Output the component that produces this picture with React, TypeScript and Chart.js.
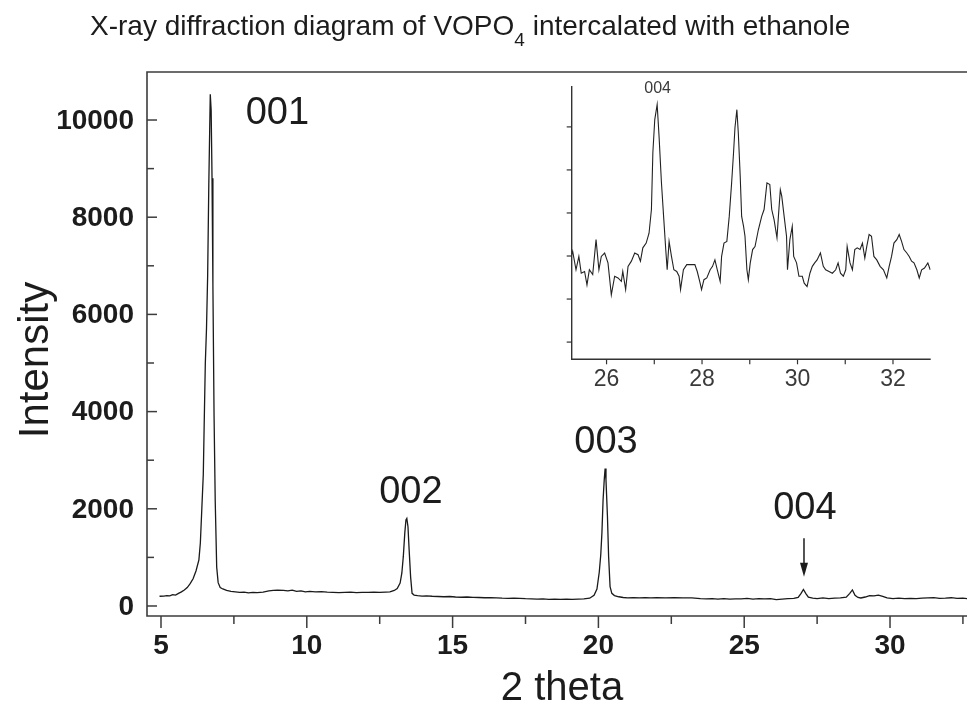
import React, { useEffect, useRef } from 'react';
import { Chart, registerables } from 'chart.js';

Chart.register(...registerables);

// ---------- main diffractogram ----------
const mainTheta = [
  4.95, 5.1, 5.2, 5.3, 5.4, 5.5, 5.6, 5.7, 5.8, 5.9, 6.0, 6.1, 6.2, 6.3, 6.35, 6.4, 6.45, 6.48, 6.52, 6.56,
  6.6, 6.64, 6.67, 6.69, 6.72, 6.75, 6.78, 6.82, 6.86, 6.91, 6.96, 7.03, 7.12, 7.25, 7.4, 7.55, 7.7, 7.85,
  8.0, 8.15, 8.3, 8.5, 8.7, 8.85, 9.0, 9.2, 9.35, 9.5, 9.65, 9.8, 9.95, 10.1, 10.3, 10.5, 10.7, 10.9, 11.1,
  11.3, 11.5, 11.7, 11.9, 12.1, 12.3, 12.5, 12.7, 12.85, 13.0, 13.1, 13.2, 13.26, 13.31, 13.36, 13.4, 13.43,
  13.47, 13.51, 13.56, 13.61, 13.68, 13.8, 13.95, 14.1, 14.3, 14.5, 14.7, 14.9, 15.1, 15.3, 15.5, 15.7, 15.9,
  16.1, 16.3, 16.5, 16.7, 16.9, 17.1, 17.3, 17.5, 17.7, 17.9, 18.1, 18.3, 18.5, 18.7, 18.9, 19.1, 19.3, 19.5,
  19.7, 19.85, 19.95, 20.03, 20.08, 20.12, 20.16, 20.2, 20.23, 20.26, 20.31, 20.35, 20.4, 20.46, 20.55, 20.7,
  20.85, 21.0, 21.2, 21.4, 21.6, 21.8, 22.0, 22.3, 22.6, 22.9, 23.2, 23.5, 23.7, 23.9, 24.1, 24.3, 24.5, 24.7,
  24.9, 25.1, 25.3, 25.5, 25.7, 25.9, 26.1, 26.3, 26.5, 26.7, 26.85, 26.95, 27.03, 27.12, 27.2, 27.35, 27.5,
  27.7, 27.9, 28.1, 28.3, 28.5, 28.62, 28.71, 28.8, 28.9, 29.0, 29.15, 29.3, 29.45, 29.6, 29.75, 29.9, 30.1,
  30.3, 30.5, 30.7, 30.9, 31.1, 31.3, 31.5, 31.7, 31.9, 32.1, 32.3, 32.5, 32.7,
];
const mainIntensity = [
  200, 205, 215, 210, 235, 225, 260, 290, 330, 380, 460, 560, 720, 950, 1300, 2000, 2700, 3700, 5000, 5700,
  6800, 8700, 9800, 10530, 10200, 8800, 6600, 3900, 2150, 800, 480, 380, 350, 320, 300, 290, 280, 285,
  270, 280, 275, 285, 310, 320, 325, 320, 310, 325, 300, 310, 290, 300, 290, 295, 285, 280, 275,
  280, 285, 275, 280, 280, 285, 280, 285, 290, 320, 360, 470, 680, 1020, 1500, 1770, 1800,
  1630, 1150, 600, 260, 225, 215, 205, 210, 200, 195, 190, 195, 185, 180, 185, 178, 175,
  170, 172, 165, 160, 158, 162, 155, 150, 148, 140, 145, 138, 142, 137, 140, 137, 140, 145,
  160, 220, 350, 700, 1050, 1500, 2180, 2600, 2830, 2590, 1840, 1020, 400, 260, 215, 190,
  175, 168, 170, 168, 172, 165, 170, 168, 170, 166, 168, 150, 145, 150, 142, 152, 140, 148,
  145, 155, 140, 150, 145, 150, 130, 142, 150, 155, 175, 260, 340, 250, 180, 160, 150,
  165, 150, 160, 165, 180, 260, 330, 220, 175, 165, 185, 215, 210, 225, 200, 165, 150,
  160, 150, 155, 150, 160, 165, 170, 155, 160, 170, 155, 160, 150,
];

const xMajorTicks = [5, 10, 15, 20, 25, 30];
const xMinorTicks = [7.5, 12.5, 17.5, 22.5, 27.5, 32.5];
const yMajorTicks = [0, 2000, 4000, 6000, 8000, 10000];
const yMinorTicks = [1000, 3000, 5000, 7000, 9000];

const peakLabels = ['001', '002', '003', '004'];
const peakLabelTheta = [8.99, 13.57, 20.26, 27.08];
const peakLabelIntensity = [10144, 2325, 3354, 1996];
const arrowTheta = 27.05;
const arrowTopIntensity = 1393;
const arrowTipIntensity = 603;

// ---------- inset (25.3 - 32.8 deg, arbitrary intensity units) ----------
const insetTheta = [
  25.26, 25.29, 25.36, 25.42, 25.47, 25.54, 25.59, 25.64, 25.71, 25.78, 25.84, 25.89, 25.96, 26.03, 26.1,
  26.17, 26.24, 26.31, 26.34, 26.4, 26.45, 26.52, 26.59, 26.66, 26.71, 26.76, 26.83, 26.89, 26.94, 26.97,
  27.01, 27.06, 27.1, 27.15, 27.2, 27.24, 27.27, 27.31, 27.36, 27.41, 27.47, 27.52, 27.55, 27.61, 27.68,
  27.78, 27.85, 27.9, 27.96, 27.99, 28.04, 28.1, 28.17, 28.22, 28.27, 28.32, 28.38, 28.41, 28.46, 28.52,
  28.57, 28.62, 28.66, 28.69, 28.73, 28.76, 28.8, 28.83, 28.87, 28.9, 28.94, 28.97, 29.01, 29.06, 29.11,
  29.18, 29.25, 29.3, 29.36, 29.42, 29.46, 29.51, 29.57, 29.6, 29.64, 29.67, 29.72, 29.77, 29.79, 29.84,
  29.89, 29.92, 29.98, 30.03, 30.1, 30.14, 30.2, 30.26, 30.31, 30.36, 30.41, 30.48, 30.54, 30.59, 30.66,
  30.73, 30.8, 30.85, 30.9, 30.96, 31.01, 31.04, 31.1, 31.15, 31.2, 31.25, 31.31, 31.36, 31.41, 31.45,
  31.5, 31.55, 31.6, 31.66, 31.73, 31.8, 31.87, 31.92, 31.97, 32.02, 32.08, 32.13, 32.18, 32.23, 32.29,
  32.34, 32.39, 32.44, 32.5, 32.55, 32.6, 32.66, 32.73, 32.78,
];
const insetIntensity = [
  1.99, 2.11, 1.68, 1.99, 1.6, 1.64, 1.33, 1.68, 1.57, 2.38, 1.68, 1.99, 2.07, 1.84, 1.1,
  1.53, 1.49, 1.41, 1.64, 1.22, 1.76, 1.88, 2.07, 2.03, 1.88, 2.19, 2.3, 2.53, 3.08, 4.4,
  5.17, 5.52, 4.78, 3.7, 2.84, 2.15, 1.68, 2.34, 1.99, 1.68, 1.64, 1.53, 1.22, 1.68, 1.8,
  1.8, 1.8, 1.64, 1.37, 1.22, 1.45, 1.49, 1.68, 1.76, 1.91, 1.68, 1.41, 1.99, 2.3, 2.34,
  2.92, 3.7, 4.4, 4.98, 5.4, 4.86, 3.85, 2.92, 2.69, 2.46, 1.68, 1.45, 1.84, 2.15, 2.22,
  2.61, 2.92, 3.08, 3.7, 3.66, 3.08, 2.84, 2.42, 2.92, 3.54, 3.39, 2.92, 2.46, 1.68, 2.38,
  2.69, 1.99, 1.84, 1.53, 1.53, 1.37, 1.29, 1.6, 1.76, 1.84, 1.91, 2.07, 1.76, 1.68, 1.64,
  1.6, 1.68, 1.84, 1.6, 1.53, 1.68, 2.22, 1.84, 1.68, 2.15, 2.19, 2.15, 2.3, 1.95, 2.22,
  2.5, 2.46, 1.99, 1.91, 1.76, 1.68, 1.49, 1.76, 1.99, 2.3, 2.38, 2.5, 2.34, 2.15, 2.07,
  1.99, 1.88, 1.84, 1.68, 1.49, 1.68, 1.72, 1.84, 1.68,
];
const insetXMajorTicks = [26, 28, 30, 32];
const insetXMinorTicks = [27, 29, 31];
const insetYTicks = [0, 1, 2, 3, 4, 5];
const insetPeakLabel = '004';
const insetPeakLabelTheta = 27.07;
const insetPeakLabelIntensity = 5.88;

const titleMain = 'X-ray diffraction diagram of VOPO';
const titleSub = '4';
const titleRest = ' intercalated with ethanole';
const xAxisTitle = '2 theta';
const yAxisTitle = 'Intensity';

const FONT = '"Liberation Sans", Arial, Helvetica, sans-serif';

function line(ctx: CanvasRenderingContext2D, x1: number, y1: number, x2: number, y2: number) {
  ctx.beginPath();
  ctx.moveTo(x1, y1);
  ctx.lineTo(x2, y2);
  ctx.stroke();
}

const mainDecor = {
  id: 'mainDecor',
  afterDraw(chart: any) {
    const { ctx, chartArea: a, scales } = chart;
    const x = scales.x;
    const y = scales.y;
    ctx.save();
    // frame
    ctx.strokeStyle = '#3c3c3c';
    ctx.lineWidth = 1.6;
    ctx.beginPath();
    ctx.moveTo(a.right + 5, a.top);
    ctx.lineTo(a.left, a.top);
    ctx.lineTo(a.left, a.bottom);
    ctx.lineTo(a.right + 5, a.bottom);
    ctx.stroke();
    // y ticks (inward)
    ctx.lineWidth = 1.5;
    yMajorTicks.forEach((v) => {
      const py = y.getPixelForValue(v);
      line(ctx, a.left, py, a.left + 10, py);
    });
    yMinorTicks.forEach((v) => {
      const py = y.getPixelForValue(v);
      line(ctx, a.left, py, a.left + 7, py);
    });
    // x ticks (outward)
    xMajorTicks.forEach((v) => {
      const px = x.getPixelForValue(v);
      line(ctx, px, a.bottom, px, a.bottom + 12);
    });
    xMinorTicks.forEach((v) => {
      const px = x.getPixelForValue(v);
      line(ctx, px, a.bottom, px, a.bottom + 8);
    });
    // tick labels
    ctx.fillStyle = '#1c1c1c';
    ctx.font = `bold 28px ${FONT}`;
    ctx.textAlign = 'right';
    ctx.textBaseline = 'middle';
    yMajorTicks.forEach((v) => {
      ctx.fillText(String(v), a.left - 13, y.getPixelForValue(v) + 1);
    });
    ctx.textAlign = 'center';
    xMajorTicks.forEach((v) => {
      ctx.fillText(String(v), x.getPixelForValue(v), a.bottom + 30);
    });
    // axis titles
    ctx.font = `40px ${FONT}`;
    ctx.textBaseline = 'alphabetic';
    ctx.fillText(xAxisTitle, 562, 700);
    ctx.save();
    ctx.font = `42px ${FONT}`;
    ctx.translate(48, 360);
    ctx.rotate(-Math.PI / 2);
    ctx.fillText(yAxisTitle, 0, 0);
    ctx.restore();
    // peak labels
    ctx.font = `38px ${FONT}`;
    ctx.textBaseline = 'middle';
    peakLabels.forEach((t, i) => {
      ctx.fillText(t, x.getPixelForValue(peakLabelTheta[i]), y.getPixelForValue(peakLabelIntensity[i]));
    });
    // arrow for 004
    const ax = x.getPixelForValue(arrowTheta);
    const ay1 = y.getPixelForValue(arrowTopIntensity);
    const ay2 = y.getPixelForValue(arrowTipIntensity);
    ctx.strokeStyle = '#1c1c1c';
    ctx.lineWidth = 1.5;
    line(ctx, ax, ay1, ax, ay2 - 12);
    ctx.beginPath();
    ctx.moveTo(ax - 4, ay2 - 14);
    ctx.lineTo(ax + 4, ay2 - 14);
    ctx.lineTo(ax, ay2);
    ctx.closePath();
    ctx.fill();
    // title with subscript
    ctx.textAlign = 'left';
    ctx.textBaseline = 'alphabetic';
    ctx.font = `28px ${FONT}`;
    let tx = 90;
    ctx.fillText(titleMain, tx, 35);
    tx += ctx.measureText(titleMain).width;
    ctx.font = `19px ${FONT}`;
    ctx.fillText(titleSub, tx, 46);
    tx += ctx.measureText(titleSub).width;
    ctx.font = `28px ${FONT}`;
    ctx.fillText(titleRest, tx, 35);
    ctx.restore();
  },
};

const insetDecor = {
  id: 'insetDecor',
  afterDraw(chart: any) {
    const { ctx, chartArea: a, scales } = chart;
    const x = scales.x;
    const y = scales.y;
    ctx.save();
    ctx.strokeStyle = '#333';
    ctx.lineWidth = 1.4;
    ctx.beginPath();
    ctx.moveTo(a.left, a.top);
    ctx.lineTo(a.left, a.bottom);
    ctx.lineTo(a.right, a.bottom);
    ctx.stroke();
    ctx.lineWidth = 1.2;
    insetYTicks.forEach((v) => {
      const py = y.getPixelForValue(v);
      line(ctx, a.left - 5, py, a.left, py);
    });
    insetXMajorTicks.concat(insetXMinorTicks).forEach((v) => {
      const px = x.getPixelForValue(v);
      line(ctx, px, a.bottom, px, a.bottom + 5);
    });
    ctx.fillStyle = '#3a3a3a';
    ctx.font = `23px ${FONT}`;
    ctx.textAlign = 'center';
    ctx.textBaseline = 'middle';
    insetXMajorTicks.forEach((v) => {
      ctx.fillText(String(v), x.getPixelForValue(v), a.bottom + 20);
    });
    ctx.font = `16px ${FONT}`;
    ctx.fillText(insetPeakLabel, x.getPixelForValue(insetPeakLabelTheta), y.getPixelForValue(insetPeakLabelIntensity));
    ctx.restore();
  },
};

export default function App() {
  const mainRef = useRef<HTMLCanvasElement | null>(null);
  const insetRef = useRef<HTMLCanvasElement | null>(null);

  useEffect(() => {
    if (!mainRef.current || !insetRef.current) return;
    const main = new Chart(mainRef.current, {
      type: 'line',
      data: {
        datasets: [
          {
            data: mainTheta.map((t, i) => ({ x: t, y: mainIntensity[i] })),
            borderColor: '#1a1a1a',
            borderWidth: 1.3,
            pointRadius: 0,
            tension: 0,
            fill: false,
          },
        ],
      },
      options: {
        responsive: false,
        animation: false,
        devicePixelRatio: 1,
        layout: { padding: { left: 147, top: 72, right: 0, bottom: 88 } },
        plugins: { legend: { display: false }, tooltip: { enabled: false }, title: { display: false } },
        events: [],
        scales: {
          x: { type: 'linear', min: 4.52, max: 32.64, display: false },
          y: { type: 'linear', min: -206, max: 10988, display: false },
        },
      },
      plugins: [mainDecor],
    });
    const inset = new Chart(insetRef.current, {
      type: 'line',
      data: {
        datasets: [
          {
            data: insetTheta.map((t, i) => ({ x: t, y: insetIntensity[i] })),
            borderColor: '#222',
            borderWidth: 1.1,
            pointRadius: 0,
            tension: 0,
            fill: false,
          },
        ],
      },
      options: {
        responsive: false,
        animation: false,
        devicePixelRatio: 1,
        layout: { padding: { left: 571.7, top: 86, right: 36.3, bottom: 344.7 } },
        plugins: { legend: { display: false }, tooltip: { enabled: false }, title: { display: false } },
        events: [],
        scales: {
          x: { type: 'linear', min: 25.27, max: 32.79, display: false },
          y: { type: 'linear', min: -0.4, max: 5.95, display: false },
        },
      },
      plugins: [insetDecor],
    });
    return () => {
      main.destroy();
      inset.destroy();
    };
  }, []);

  return (
    <div style={{ position: 'absolute', left: 0, top: 0, width: 967, height: 704, background: '#fff' }}>
      <canvas ref={mainRef} width={967} height={704} style={{ position: 'absolute', left: 0, top: 0 }} />
      <canvas ref={insetRef} width={967} height={704} style={{ position: 'absolute', left: 0, top: 0 }} />
    </div>
  );
}
